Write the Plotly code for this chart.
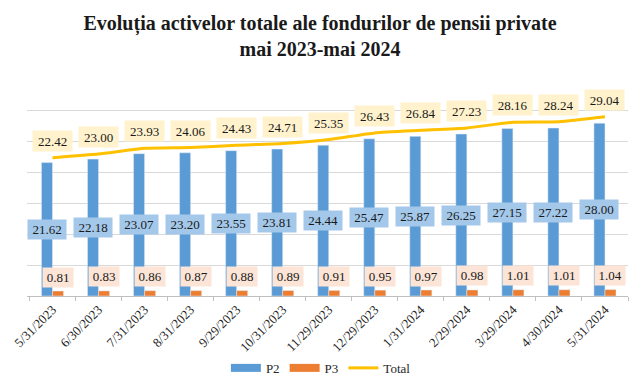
import plotly.graph_objects as go

dates = ["5/31/2023", "6/30/2023", "7/31/2023", "8/31/2023", "9/29/2023", "10/31/2023",
         "11/29/2023", "12/29/2023", "1/31/2024", "2/29/2024", "3/29/2024", "4/30/2024", "5/31/2024"]
p2 = [21.62, 22.18, 23.07, 23.20, 23.55, 23.81, 24.44, 25.47, 25.87, 26.25, 27.15, 27.22, 28.00]
p3 = [0.81, 0.83, 0.86, 0.87, 0.88, 0.89, 0.91, 0.95, 0.97, 0.98, 1.01, 1.01, 1.04]
total = [22.42, 23.00, 23.93, 24.06, 24.43, 24.71, 25.35, 26.43, 26.84, 27.23, 28.16, 28.24, 29.04]

C_P2 = "#5B9BD5"
C_P3 = "#ED7D31"
C_TOT = "#FFC000"
FONT = "Liberation Serif, Times New Roman, serif"

fig = go.Figure()
fig.add_trace(go.Bar(x=dates, y=p2, name="P2", marker_color=C_P2, showlegend=False))
fig.add_trace(go.Bar(x=dates, y=p3, name="P3", marker_color=C_P3, showlegend=False))
fig.add_trace(go.Scatter(x=dates, y=total, name="Total", mode="lines",
                         line=dict(color=C_TOT, width=3, shape="spline", smoothing=0.5),
                         showlegend=False))
# legend entries
for nm, col, w in [("P2", C_P2, 8), ("P3", C_P3, 8), ("Total", C_TOT, 3)]:
    fig.add_trace(go.Scatter(x=[None], y=[None], mode="lines", name=nm,
                             line=dict(color=col, width=w)))

anns = []
for d, v in zip(dates, p2):
    anns.append(dict(x=d, y=v / 2, text=f"{v:.2f}", showarrow=False, xshift=-5.5,
                     bgcolor="#A4C8EA", width=36, height=17,
                     font=dict(family=FONT, size=13, color="#1a1a1a")))
for d, v in zip(dates, p3):
    anns.append(dict(x=d, y=v, text=f"{v:.2f}", showarrow=False, xshift=5.5, yshift=14,
                     bgcolor="#FCE4D6", width=28, height=17,
                     font=dict(family=FONT, size=13, color="#1a1a1a")))
for d, v in zip(dates, total):
    anns.append(dict(x=d, y=v, text=f"{v:.2f}", showarrow=False, yshift=17,
                     bgcolor="#FFF2CC", width=37, height=18,
                     font=dict(family=FONT, size=13, color="#1a1a1a")))

# the page body has an 8px default margin, so the figure is sized/offset to compensate
fig.update_layout(
    width=632, height=372,
    margin=dict(l=19, r=12, t=72, b=84, autoexpand=False),
    paper_bgcolor="white", plot_bgcolor="white",
    barmode="group", bargap=0.52, bargroupgap=0,
    title=dict(text="<b>Evoluția activelor totale ale fondurilor de pensii private<br>mai 2023-mai 2024</b>",
               x=0.4937, xref="container", xanchor="center", y=0.9417, yanchor="top", yref="container",
               font=dict(family=FONT, size=20, color="#1a1a1a")),
    font=dict(family=FONT, size=13, color="#262626"),
    legend=dict(orientation="h", x=0.489, xanchor="center", y=-0.333, yanchor="middle",
                font=dict(family=FONT, size=13, color="#262626"), itemwidth=30,
                traceorder="normal"),
    annotations=anns,
    xaxis=dict(type="category", tickangle=-45, showline=True, linecolor="#BFBFBF", linewidth=1,
               ticks="outside", tickson="boundaries", ticklen=4, tickcolor="#BFBFBF",
               tickfont=dict(family=FONT, size=13, color="#262626"), showgrid=False,
               automargin=False),
    yaxis=dict(range=[0, 35], dtick=5, showticklabels=False, showgrid=True,
               gridcolor="#D9D9D9", gridwidth=1, zeroline=False, ticks="", automargin=False),
)

fig.write_html("out.html")
